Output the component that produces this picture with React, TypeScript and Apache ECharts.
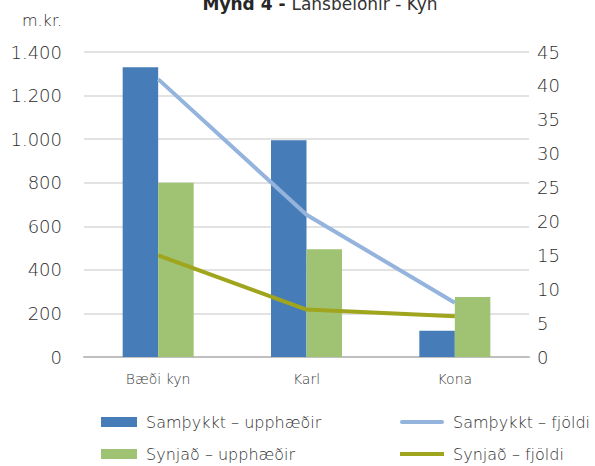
import React, { useEffect, useRef } from "react";
import * as echarts from "echarts";

const categories = ["Bæði kyn", "Karl", "Kona"];
const approvedAmount = [1330, 995, 120];
const rejectedAmount = [800, 495, 275];
const approvedCount = [41, 21, 8];
const rejectedCount = [15, 7, 6];
const leftTicks = { min: 0, max: 1400, interval: 200 };
const rightTicks = { min: 0, max: 45, interval: 5 };

const FONT = "'DejaVu Sans', sans-serif";
const TXT = "#2e2e2e";
const W = 300;

const legendText = { fontFamily: FONT, fontSize: 16, fontWeight: W, color: TXT, padding: [0, 0, 0, 4] };

export default function App() {
  const ref = useRef<HTMLDivElement>(null);
  useEffect(() => {
    if (!ref.current) return;
    const chart = echarts.init(ref.current, undefined, { renderer: "svg" });
    chart.setOption({
      animation: false,
      textStyle: { fontFamily: FONT },
      grid: { left: 84, right: 66, top: 52, bottom: 109 },
      graphic: [
        {
          type: "text",
          x: 320,
          y: 3.5,
          style: {
            text: "{b|Mynd 4 - }{n|Lánsbeiðnir - Kyn}",
            textAlign: "center",
            textVerticalAlign: "middle",
            rich: {
              b: { fontFamily: FONT, fontSize: 17, fontWeight: "bold", fill: "#262626" },
              n: { fontFamily: FONT, fontSize: 17, fill: "#333333" },
            },
          },
        },
        {
          type: "text",
          x: 42,
          y: 20,
          style: {
            text: "m.kr.",
            textAlign: "center",
            textVerticalAlign: "middle",
            fontFamily: FONT,
            fontSize: 16,
            fontWeight: W,
            fill: TXT,
          },
        },
      ],
      legend: [
        {
          left: 96,
          top: 409,
          itemWidth: 36,
          itemHeight: 10,
          icon: "rect",
          textStyle: legendText,
          data: ["Samþykkt – upphæðir"],
        },
        {
          left: 96,
          top: 441,
          itemWidth: 36,
          itemHeight: 10,
          icon: "rect",
          textStyle: legendText,
          data: ["Synjað – upphæðir"],
        },
        {
          left: 395,
          top: 409,
          itemWidth: 44,
          itemHeight: 10,
          textStyle: legendText,
          data: [{ name: "Samþykkt – fjöldi", icon: "path://M2,4 L42,4 A2,2 0 0 1 42,8 L2,8 A2,2 0 0 1 2,4 Z" }],
        },
        {
          left: 395,
          top: 441,
          itemWidth: 44,
          itemHeight: 10,
          textStyle: legendText,
          data: [{ name: "Synjað – fjöldi", icon: "path://M0,4 L44,4 L44,8 L0,8 Z" }],
        },
      ],
      xAxis: {
        type: "category",
        data: categories,
        axisLine: { lineStyle: { color: "#BFBFBF", width: 2 } },
        axisTick: { show: false },
        axisLabel: { fontFamily: FONT, fontSize: 14, fontWeight: W, color: "#3a3a3a", margin: 15 },
      },
      yAxis: [
        {
          type: "value",
          ...leftTicks,
          axisLine: { show: false },
          axisTick: { show: false },
          splitLine: { lineStyle: { color: "#D9D9D9", width: 1.5 } },
          axisLabel: {
            fontFamily: FONT,
            fontSize: 18,
            fontWeight: W,
            color: TXT,
            margin: 22,
            formatter: (v: number) => String(v).replace(/\B(?=(\d{3})+(?!\d))/g, "."),
          },
        },
        {
          type: "value",
          ...rightTicks,
          position: "right",
          axisLine: { show: false },
          axisTick: { show: false },
          splitLine: { show: false },
          axisLabel: { fontFamily: FONT, fontSize: 18, fontWeight: W, color: TXT, margin: 8 },
        },
      ],
      series: [
        {
          name: "Samþykkt – upphæðir",
          type: "bar",
          data: approvedAmount,
          barWidth: 35.5,
          barGap: "0%",
          itemStyle: { color: "#467DB9" },
        },
        {
          name: "Synjað – upphæðir",
          type: "bar",
          data: rejectedAmount,
          barWidth: 35.5,
          barGap: "0%",
          itemStyle: { color: "#A0C373" },
        },
        {
          name: "Samþykkt – fjöldi",
          type: "line",
          yAxisIndex: 1,
          data: approvedCount,
          symbol: "none",
          lineStyle: { color: "#95B4DD", width: 4 },
          itemStyle: { color: "#95B4DD" },
        },
        {
          name: "Synjað – fjöldi",
          type: "line",
          yAxisIndex: 1,
          data: rejectedCount,
          symbol: "none",
          lineStyle: { color: "#A0A51E", width: 4 },
          itemStyle: { color: "#A0A51E" },
        },
      ],
    });
    return () => chart.dispose();
  }, []);
  return <div ref={ref} style={{ width: 595, height: 466, position: "absolute", left: 0, top: 0 }} />;
}
